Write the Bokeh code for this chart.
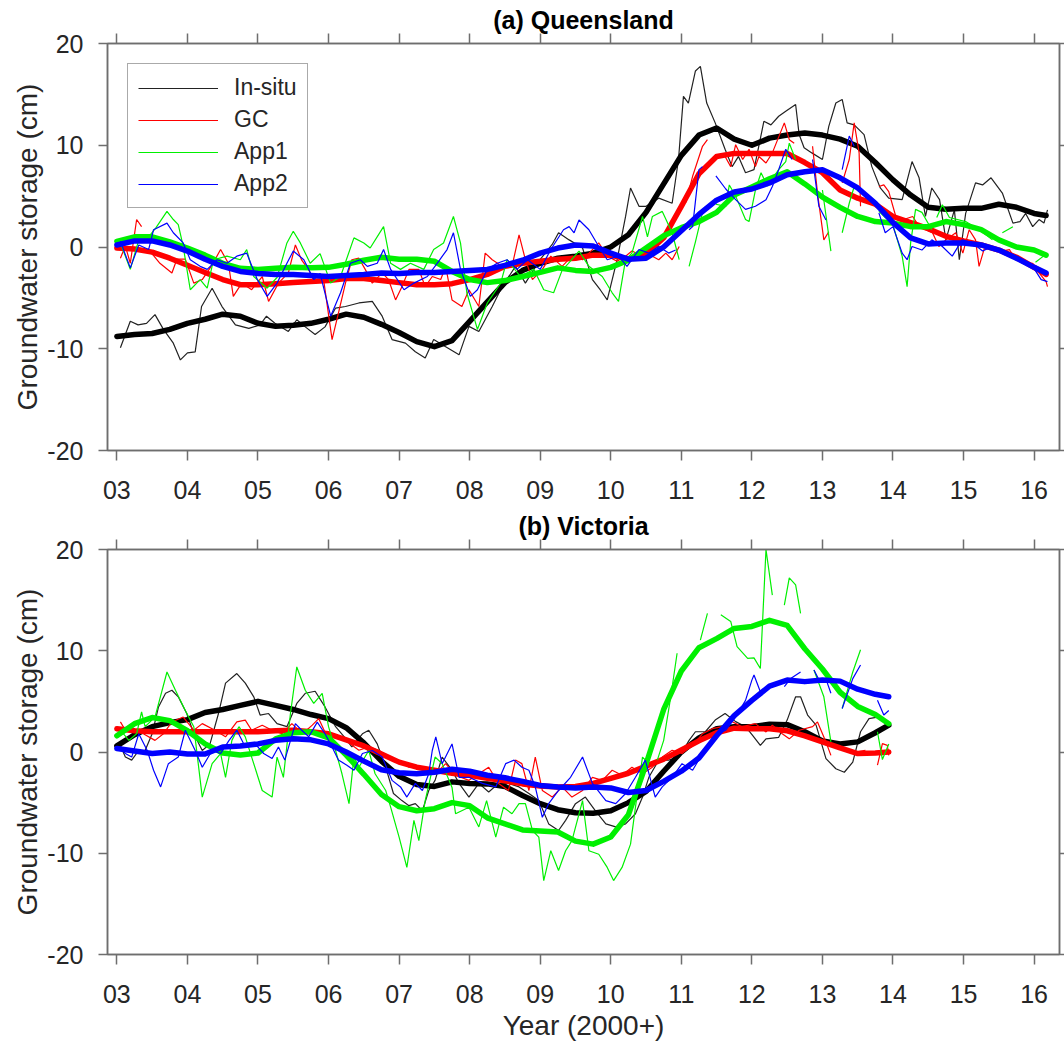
from bokeh.plotting import figure
from bokeh.models import LinearAxis, FixedTicker, Legend, LegendItem, Range1d, Title
from bokeh.layouts import column
from bokeh.embed import file_html
from bokeh.resources import INLINE

nan = float("nan")

YEAR_TICKS = [2003, 2004, 2005, 2006, 2007, 2008, 2009, 2010, 2011, 2012, 2013, 2014, 2015, 2016]
YEAR_LABELS = ["03", "04", "05", "06", "07", "08", "09", "10", "11", "12", "13", "14", "15", "16"]
Y_TICKS = [-20, -10, 0, 10, 20]
Y_LABELS = ["-20", "-10", "0", "10", "20"]
SERIES = ["In-situ", "GC", "App1", "App2"]
COLORS = ["#000000", "#ff0000", "#00f000", "#0000ff"]

# ---------------- (a) Queensland : monthly series (year, cm) ----------------
Q_INSITU = [(2003.05,-9.9),(2003.19,-7.3),(2003.30,-7.65),(2003.42,-7.5),(2003.54,-6.65),(2003.66,-8.1),(2003.80,-9.45),(2003.90,-11.1),(2004.00,-10.4),(2004.11,-10.3),(2004.20,-5.85),(2004.35,-4.05),(2004.49,-5.85),(2004.68,-7.65),(2004.87,-8.0),(2005.03,-7.65),(2005.12,-6.8),(2005.24,-7.5),(2005.43,-8.3),(2005.55,-7.15),(2005.67,-7.85),(2005.81,-8.6),(2005.95,-7.85),(2006.10,-6.0),(2006.24,-5.85),(2006.43,-5.5),(2006.62,-5.35),(2006.76,-6.8),(2006.90,-9.1),(2007.09,-9.45),(2007.23,-10.3),(2007.37,-10.9),(2007.49,-9.1),(2007.66,-9.8),(2007.85,-10.6),(2007.99,-7.8),(2008.13,-8.3),(2008.32,-5.85),(2008.46,-3.9),(2008.65,-1.9),(2008.79,-3.55),(2008.98,-1.4),(2009.17,0.25),(2009.26,1.4),(2009.41,0.7),(2009.60,-0.1),(2009.74,-3.2),(2009.85,-4.2),(2009.95,-5.2),(2010.09,-1.25),(2010.21,3.0),(2010.28,5.8),(2010.40,4.0),(2010.50,4.0),(2010.68,4.8),(2010.87,4.3),(2010.96,8.6),(2011.03,14.8),(2011.10,14.15),(2011.20,17.3),(2011.27,17.75),(2011.36,14.15),(2011.48,12.2),(2011.62,9.6),(2011.72,7.9),(2011.81,8.9),(2011.91,7.3),(2012.03,7.6),(2012.17,12.35),(2012.27,12.0),(2012.38,12.85),(2012.48,13.35),(2012.62,14.0),(2012.67,11.05),(2012.74,9.75),(2012.85,9.25),(2013.00,8.6),(2013.09,11.85),(2013.19,14.15),(2013.28,14.5),(2013.35,12.2),(2013.45,12.0),(2013.59,11.05),(2013.70,7.9),(2013.82,5.8),(2013.94,4.8),(2014.13,4.65),(2014.27,8.4),(2014.37,6.8),(2014.46,3.0),(2014.55,5.8),(2014.66,4.65),(2014.75,0.7),(2014.87,3.65),(2014.94,-1.25),(2015.03,3.3),(2015.17,6.3),(2015.27,6.1),(2015.39,6.8),(2015.55,5.3),(2015.70,2.35),(2015.80,2.5),(2015.88,3.3),(2015.98,2.0),(2016.07,2.7),(2016.14,2.35),(2016.19,3.65)]

Q_GC = [(2003.05,-1.1),(2003.12,0.1),(2003.19,-1.6),(2003.28,2.7),(2003.35,2.0),(2003.38,nan),(2003.45,-0.25),(2003.61,-1.6),(2003.78,-2.55),(2003.85,-1.2),(2003.97,-1.2),(2004.09,-3.55),(2004.21,-3.2),(2004.35,-1.75),(2004.47,-0.25),(2004.58,-1.6),(2004.65,-4.85),(2004.77,-3.55),(2004.91,-4.2),(2005.06,-2.9),(2005.15,-5.35),(2005.29,-3.55),(2005.43,-2.55),(2005.53,0.2),(2005.62,-1.3),(2005.72,-2.25),(2005.81,-3.55),(2005.93,-3.2),(2006.05,-9.1),(2006.14,-6.5),(2006.24,-3.55),(2006.33,-1.25),(2006.43,-1.1),(2006.52,-2.2),(2006.62,-3.55),(2006.76,-2.55),(2006.85,-3.2),(2006.95,-5.2),(2007.04,-3.9),(2007.14,-2.2),(2007.28,-2.2),(2007.37,-3.9),(2007.47,-2.9),(2007.59,-3.2),(2007.66,-1.9),(2007.75,-5.2),(2007.89,-5.85),(2007.99,-4.2),(2008.13,-5.85),(2008.22,-0.6),(2008.32,-1.25),(2008.46,-1.9),(2008.60,-1.9),(2008.70,1.2),(2008.79,-1.25),(2008.89,-3.2),(2009.03,-2.2),(2009.15,-0.9),(2009.31,-1.9),(2009.45,-0.9),(2009.60,-1.25),(2009.74,-0.25),(2009.83,0.4),(2009.95,-0.9),(2010.09,-1.4),(2010.21,-0.9),(2010.30,-0.4),(2010.45,-0.9),(2010.59,-0.9),(2010.68,-1.25),(2010.78,-0.6),(2010.87,-1.25),(2010.97,0.05),(2011.00,nan),(2011.06,4.35),(2011.16,6.95),(2011.30,9.9),(2011.37,10.55),(2011.50,nan),(2011.62,8.9),(2011.70,7.9),(2011.77,10.05),(2011.87,8.6),(2011.96,9.6),(2012.05,7.9),(2012.10,8.9),(2012.20,8.25),(2012.29,9.25),(2012.46,12.2),(2012.53,10.55),(2012.60,10.2),(2012.70,nan),(2012.86,9.9),(2012.93,5.3),(2013.02,0.7),(2013.09,1.5),(2013.20,nan),(2013.28,6.3),(2013.38,8.6),(2013.45,12.2),(2013.52,9.25),(2013.54,4.0),(2013.65,nan),(2013.80,5.95),(2013.87,6.1),(2013.94,5.45),(2014.04,3.0),(2014.13,2.65),(2014.28,3.0),(2014.37,2.0),(2014.56,1.4),(2014.65,0.05),(2014.75,0.7),(2014.89,1.4),(2014.99,-0.6),(2015.08,1.7),(2015.17,0.7),(2015.22,-1.9),(2015.29,-0.25),(2015.41,0.05),(2015.55,-0.4),(2015.65,-0.25),(2015.74,-1.25),(2015.84,-1.6),(2015.98,-1.6),(2016.07,-2.55),(2016.17,-3.4),(2016.19,-3.9)]

Q_APP1 = [(2003.05,0.4),(2003.19,-2.2),(2003.31,0.7),(2003.45,1.0),(2003.55,1.85),(2003.71,3.5),(2003.80,2.7),(2003.87,2.2),(2003.94,0.05),(2004.04,-4.2),(2004.18,-3.2),(2004.28,-4.05),(2004.37,-1.25),(2004.56,-0.9),(2004.75,-1.25),(2004.84,-0.25),(2004.94,-2.9),(2005.13,-4.05),(2005.27,-3.0),(2005.41,0.4),(2005.50,1.55),(2005.60,0.4),(2005.74,-1.6),(2005.88,-0.65),(2006.03,-3.55),(2006.17,-2.9),(2006.36,0.9),(2006.50,0.4),(2006.59,-0.1),(2006.78,2.0),(2006.88,-1.6),(2007.02,-2.2),(2007.16,-1.6),(2007.35,-2.2),(2007.49,-0.25),(2007.63,0.4),(2007.77,3.0),(2007.87,0.4),(2007.96,-4.5),(2008.11,-8.1),(2008.25,-5.5),(2008.44,-3.55),(2008.53,-1.25),(2008.72,-2.9),(2008.91,-2.2),(2009.05,-4.2),(2009.19,-4.5),(2009.31,-2.3),(2009.40,-1.6),(2009.55,-0.4),(2009.69,-1.9),(2009.88,-2.9),(2010.02,-4.5),(2010.11,-5.35),(2010.21,-1.25),(2010.30,-0.6),(2010.45,3.0),(2010.52,1.0),(2010.59,3.0),(2010.73,3.5),(2010.87,1.4),(2010.97,-1.25),(2011.04,nan),(2011.11,-1.9),(2011.20,0.5),(2011.30,3.4),(2011.40,nan),(2011.49,4.2),(2011.63,4.0),(2011.68,6.1),(2011.77,5.0),(2011.91,2.7),(2011.96,2.5),(2012.05,5.6),(2012.13,7.3),(2012.22,6.0),(2012.38,7.6),(2012.48,8.4),(2012.53,10.2),(2012.62,8.6),(2012.70,nan),(2013.00,5.6),(2013.12,-0.4),(2013.20,nan),(2013.28,1.4),(2013.38,4.3),(2013.45,5.95),(2013.60,nan),(2013.80,3.5),(2013.89,2.9),(2013.99,2.4),(2014.13,-0.9),(2014.20,-3.9),(2014.25,0.4),(2014.32,3.7),(2014.41,3.4),(2014.55,1.7),(2014.60,nan),(2014.62,2.9),(2014.70,4.15),(2014.80,2.9),(2015.03,2.5),(2015.22,1.7),(2015.41,0.7),(2015.48,nan),(2015.55,1.4),(2015.70,2.0),(2015.80,nan),(2016.02,-1.5),(2016.16,-0.75)]

Q_APP2 = [(2003.05,0.55),(2003.19,-2.05),(2003.31,0.2),(2003.45,-0.25),(2003.52,1.7),(2003.71,2.35),(2003.80,1.4),(2003.94,0.4),(2004.04,-1.25),(2004.18,-1.9),(2004.28,-2.2),(2004.42,-1.25),(2004.56,-1.6),(2004.70,-0.9),(2004.84,-0.6),(2004.99,-3.2),(2005.13,-4.85),(2005.27,-3.55),(2005.41,-1.6),(2005.50,-0.4),(2005.65,-1.25),(2005.79,-3.2),(2005.88,-2.6),(2006.03,-6.8),(2006.17,-4.5),(2006.31,-1.6),(2006.45,-1.25),(2006.55,-1.9),(2006.69,-1.6),(2006.78,-0.25),(2006.88,-2.2),(2007.07,-4.2),(2007.21,-3.55),(2007.40,-2.9),(2007.54,-1.6),(2007.68,-0.25),(2007.77,1.4),(2007.87,-2.2),(2008.01,-4.85),(2008.11,-4.2),(2008.25,-2.2),(2008.39,-1.6),(2008.53,-1.25),(2008.67,-2.2),(2008.82,-1.25),(2009.00,-2.2),(2009.15,-0.25),(2009.33,1.7),(2009.41,2.0),(2009.48,1.4),(2009.55,2.65),(2009.69,1.7),(2009.83,0.05),(2009.95,-1.25),(2010.11,-0.9),(2010.23,-1.9),(2010.40,-0.25),(2010.54,-0.6),(2010.68,0.05),(2010.82,-0.6),(2010.92,-0.3),(2011.00,nan),(2011.11,1.7),(2011.16,2.0),(2011.25,7.6),(2011.30,7.9),(2011.40,nan),(2011.49,7.0),(2011.63,5.7),(2011.77,4.65),(2011.91,3.7),(2012.05,4.0),(2012.20,4.65),(2012.29,5.95),(2012.38,7.6),(2012.48,9.6),(2012.57,8.6),(2012.70,nan),(2012.86,8.6),(2012.95,4.0),(2013.05,2.65),(2013.15,nan),(2013.28,7.6),(2013.38,10.9),(2013.45,9.9),(2013.60,nan),(2013.80,3.35),(2013.89,1.4),(2014.00,2.0),(2014.13,-0.6),(2014.20,-1.25),(2014.27,0.05),(2014.41,-0.3),(2014.55,0.7),(2014.70,0.05),(2014.84,-0.9),(2014.98,0.7),(2015.13,0.4),(2015.27,-0.4),(2015.41,0.05),(2015.55,-0.6),(2015.70,-0.9),(2015.84,-1.6),(2015.98,-1.9),(2016.10,-3.2),(2016.19,-3.4)]

# smoothed curves, read quarterly
Q_SMOOTH_T = [2003.00,2003.25,2003.50,2003.75,2004.00,2004.25,2004.50,2004.75,2005.00,2005.25,2005.50,2005.75,2006.00,2006.25,2006.50,2006.75,2007.00,2007.25,2007.50,2007.75,2008.00,2008.25,2008.50,2008.75,2009.00,2009.25,2009.50,2009.75,2010.00,2010.25,2010.50,2010.75,2011.00,2011.25,2011.50,2011.75,2012.00,2012.25,2012.50,2012.75,2013.00,2013.25,2013.50,2013.75,2014.00,2014.25,2014.50,2014.75,2015.00,2015.25,2015.50,2015.75,2016.00,2016.17]
Q_INSITU_S = [-8.8,-8.6,-8.5,-8.1,-7.5,-7.1,-6.6,-6.8,-7.5,-7.8,-7.7,-7.5,-7.1,-6.6,-6.9,-7.6,-8.4,-9.3,-9.8,-9.2,-7.3,-5.4,-3.5,-2.3,-1.6,-1.1,-0.9,-0.6,0.0,1.2,3.4,6.2,9.0,11.0,11.7,10.6,10.0,10.7,11.0,11.2,11.0,10.6,9.9,8.3,6.6,5.1,3.9,3.7,3.8,3.8,4.2,3.9,3.3,3.1]
Q_GC_S = [-0.1,-0.2,-0.5,-1.1,-1.8,-2.5,-3.2,-3.7,-3.7,-3.6,-3.5,-3.4,-3.3,-3.1,-3.1,-3.3,-3.5,-3.7,-3.7,-3.6,-3.2,-2.7,-1.9,-1.6,-1.4,-1.2,-1.1,-0.8,-0.8,-1.2,-0.7,0.9,4.0,7.2,8.9,9.2,9.2,9.2,9.2,8.3,7.3,5.6,4.8,4.2,3.0,2.4,1.8,1.05,0.6,0.2,-0.3,-1.0,-2.0,-2.7]
Q_APP1_S = [0.55,1.0,1.0,0.5,-0.1,-0.8,-1.6,-2.1,-2.2,-2.1,-2.0,-2.05,-2.0,-1.7,-1.3,-1.0,-1.2,-1.2,-1.4,-2.4,-3.2,-3.5,-3.3,-2.9,-2.5,-2.05,-2.3,-2.4,-2.0,-1.3,-0.1,1.1,1.9,2.5,3.4,5.1,5.9,6.7,7.4,6.2,4.9,3.9,3.0,2.5,2.35,2.0,2.0,2.5,2.2,1.7,0.7,0.0,-0.3,-0.8]
Q_APP2_S = [0.2,0.6,0.6,0.2,-0.4,-1.2,-1.9,-2.4,-2.6,-2.7,-2.7,-2.8,-2.9,-2.8,-2.7,-2.55,-2.6,-2.5,-2.5,-2.4,-2.3,-2.2,-1.8,-1.3,-0.6,-0.1,0.2,0.1,-0.6,-1.2,-1.1,0.0,1.6,3.2,4.6,5.4,5.7,6.3,7.1,7.4,7.6,6.8,5.8,4.3,2.4,0.9,0.3,0.4,0.4,0.2,-0.3,-1.1,-2.0,-2.55]

# ---------------- (b) Victoria : monthly series (year, cm) ----------------
V_INSITU = [(2003.05,0.65),(2003.12,-0.5),(2003.21,-0.8),(2003.31,0.15),(2003.40,0.15),(2003.50,1.8),(2003.59,4.45),(2003.69,5.8),(2003.78,6.1),(2003.87,5.45),(2003.99,3.8),(2004.09,1.8),(2004.21,0.15),(2004.32,0.8),(2004.44,3.8),(2004.54,6.8),(2004.70,7.75),(2004.82,6.8),(2004.94,5.45),(2005.03,3.65),(2005.15,3.8),(2005.27,2.8),(2005.41,2.5),(2005.55,4.8),(2005.67,5.8),(2005.81,6.0),(2005.95,4.45),(2006.10,2.5),(2006.24,1.35),(2006.33,0.5),(2006.48,1.8),(2006.57,2.15),(2006.69,0.8),(2006.81,-1.5),(2006.92,-4.1),(2007.04,-4.8),(2007.14,-5.3),(2007.23,-5.1),(2007.33,-5.8),(2007.42,-3.8),(2007.51,-2.8),(2007.61,-0.5),(2007.75,-1.8),(2007.85,-3.1),(2007.99,-4.45),(2008.13,-3.1),(2008.27,-3.95),(2008.41,-3.1),(2008.55,-3.1),(2008.70,-3.45),(2008.84,-4.1),(2008.98,-4.8),(2009.12,-7.1),(2009.26,-7.75),(2009.36,-6.75),(2009.50,-5.1),(2009.64,-4.45),(2009.78,-5.8),(2009.93,-7.1),(2010.07,-7.4),(2010.21,-7.1),(2010.35,-6.1),(2010.45,-4.45),(2010.54,-2.5),(2010.68,-0.8),(2010.82,-0.8),(2010.97,-0.5),(2011.11,1.15),(2011.20,2.0),(2011.34,2.0),(2011.48,3.15),(2011.62,3.8),(2011.77,3.0),(2011.91,2.5),(2012.01,1.65),(2012.12,0.65),(2012.20,1.3),(2012.38,1.45),(2012.50,3.15),(2012.62,5.45),(2012.69,5.45),(2012.79,3.65),(2012.91,2.65),(2013.05,-0.65),(2013.19,-1.65),(2013.31,-2.0),(2013.43,-1.0),(2013.54,2.0),(2013.66,3.3),(2013.78,3.45),(2013.94,2.65)]

V_GC = [(2003.05,2.97),(2003.12,2.15),(2003.21,2.3),(2003.35,1.9),(2003.54,1.15),(2003.66,1.8),(2003.78,2.97),(2003.94,3.45),(2004.09,2.15),(2004.21,2.8),(2004.39,2.15),(2004.54,1.5),(2004.70,2.97),(2004.82,3.15),(2004.91,2.15),(2005.06,2.65),(2005.20,2.15),(2005.34,1.8),(2005.48,2.8),(2005.63,1.8),(2005.77,2.65),(2005.86,3.3),(2005.96,1.8),(2006.10,1.5),(2006.24,1.15),(2006.43,0.17),(2006.57,0.5),(2006.71,0.17),(2006.85,-0.5),(2006.99,-0.8),(2007.14,-1.5),(2007.28,-1.5),(2007.42,-1.8),(2007.52,-2.15),(2007.66,-1.15),(2007.80,-2.3),(2007.99,-2.8),(2008.13,-2.15),(2008.27,-1.5),(2008.41,-3.1),(2008.55,-3.8),(2008.65,-0.8),(2008.74,-1.15),(2008.84,-3.8),(2008.93,-0.5),(2009.03,-3.8),(2009.17,-4.45),(2009.31,-3.45),(2009.45,-4.45),(2009.60,-3.8),(2009.74,-2.5),(2009.88,-2.8),(2010.02,-1.8),(2010.16,-2.3),(2010.30,-1.5),(2010.45,-2.15),(2010.59,-1.5),(2010.73,-0.5),(2010.87,0.17),(2011.01,-0.15),(2011.16,0.66),(2011.30,1.8),(2011.44,2.3),(2011.58,2.5),(2011.72,3.0),(2011.86,2.5),(2012.05,2.8),(2012.20,1.98),(2012.29,2.65),(2012.43,1.8),(2012.53,1.3),(2012.67,2.15),(2012.86,2.5),(2012.93,2.97),(2013.05,0.99),(2013.12,-0.33),(2013.20,nan),(2013.28,0.33),(2013.47,0.0),(2013.61,0.17),(2013.70,nan),(2013.78,-1.3),(2013.85,0.83),(2013.92,0.66),(2013.94,-0.33)]

V_APP1 = [(2003.05,2.15),(2003.17,1.15),(2003.28,1.8),(2003.35,3.95),(2003.40,2.5),(2003.54,3.45),(2003.71,7.9),(2003.83,6.1),(2003.97,4.1),(2004.09,2.5),(2004.21,-4.45),(2004.35,-1.15),(2004.47,-0.17),(2004.54,-2.5),(2004.63,1.15),(2004.73,2.5),(2004.82,1.5),(2004.91,-0.5),(2005.06,-3.8),(2005.20,-4.45),(2005.27,-0.5),(2005.36,-2.5),(2005.46,3.8),(2005.55,8.4),(2005.67,6.1),(2005.79,4.8),(2005.91,5.8),(2006.00,2.5),(2006.10,0.15),(2006.19,-2.15),(2006.29,-5.1),(2006.36,-0.5),(2006.43,-1.5),(2006.57,0.15),(2006.66,-2.15),(2006.81,-3.8),(2006.88,-5.45),(2007.00,-8.4),(2007.11,-11.4),(2007.21,-6.75),(2007.28,-8.75),(2007.37,-4.8),(2007.51,-0.5),(2007.61,-1.15),(2007.75,-3.5),(2007.80,-6.1),(2007.99,-5.45),(2008.13,-7.4),(2008.24,-4.8),(2008.37,-8.4),(2008.48,-5.45),(2008.60,-6.1),(2008.70,-5.1),(2008.79,-5.1),(2008.89,-7.75),(2008.98,-8.4),(2009.05,-12.7),(2009.15,-9.75),(2009.26,-11.7),(2009.36,-9.75),(2009.45,-8.75),(2009.60,-4.8),(2009.69,-9.75),(2009.83,-10.1),(2009.95,-11.4),(2010.04,-12.7),(2010.16,-11.4),(2010.28,-9.1),(2010.35,-5.45),(2010.45,-0.5),(2010.54,-1.15),(2010.60,nan),(2010.66,-0.8),(2010.75,1.15),(2010.85,5.45),(2010.94,9.75),(2011.10,nan),(2011.27,11.05),(2011.37,13.7),(2011.45,nan),(2011.56,13.55),(2011.70,12.9),(2011.79,10.4),(2011.94,9.25),(2012.03,9.3),(2012.12,8.25),(2012.20,20.0),(2012.29,15.5),(2012.38,nan),(2012.46,14.5),(2012.53,17.2),(2012.62,16.5),(2012.69,13.7),(2012.78,nan),(2012.88,8.1),(2013.02,5.45),(2013.12,1.0),(2013.20,nan),(2013.28,4.3),(2013.43,7.9),(2013.54,10.1),(2013.65,nan),(2013.78,2.0),(2013.85,-0.75),(2013.94,0.8)]

V_APP2 = [(2003.05,0.5),(2003.12,-0.15),(2003.21,-0.5),(2003.31,1.8),(2003.43,0.15),(2003.52,-1.8),(2003.62,-3.45),(2003.73,-1.15),(2003.87,-0.5),(2003.97,2.15),(2004.11,0.15),(2004.21,-1.5),(2004.35,0.15),(2004.47,-0.15),(2004.59,1.15),(2004.70,2.15),(2004.82,0.5),(2004.96,0.8),(2005.08,-0.15),(2005.20,-0.65),(2005.29,0.5),(2005.38,-0.8),(2005.53,2.8),(2005.62,2.15),(2005.72,1.5),(2005.84,2.95),(2005.95,1.8),(2006.05,0.5),(2006.14,-0.8),(2006.26,-1.3),(2006.36,-1.8),(2006.48,-0.15),(2006.62,0.15),(2006.76,-0.5),(2006.90,-2.8),(2007.02,-3.45),(2007.11,-4.45),(2007.23,-3.1),(2007.33,-3.8),(2007.42,-2.15),(2007.47,0.15),(2007.52,1.5),(2007.61,-1.15),(2007.75,0.8),(2007.85,-2.5),(2007.99,-2.5),(2008.18,-3.1),(2008.37,-3.45),(2008.51,-1.15),(2008.63,-0.8),(2008.74,-1.5),(2008.84,-1.8),(2008.93,-3.45),(2009.03,-6.45),(2009.12,-5.1),(2009.26,-3.8),(2009.43,-2.5),(2009.60,-0.5),(2009.74,-3.1),(2009.93,-4.8),(2010.07,-5.1),(2010.21,-4.1),(2010.35,-2.5),(2010.49,-0.8),(2010.63,-4.45),(2010.73,-3.45),(2010.87,-2.5),(2011.01,-1.15),(2011.16,-1.8),(2011.30,-0.15),(2011.49,1.8),(2011.63,2.15),(2011.77,3.45),(2011.91,5.1),(2012.00,7.1),(2012.03,7.6),(2012.12,5.95),(2012.20,nan),(2012.46,6.45),(2012.55,7.25),(2012.69,7.9),(2012.78,nan),(2012.88,8.1),(2012.96,7.0),(2013.05,7.2),(2013.12,5.8),(2013.20,nan),(2013.28,4.3),(2013.43,7.25),(2013.54,8.6),(2013.65,nan),(2013.78,5.1),(2013.87,3.65),(2013.94,4.1)]

V_SMOOTH_T = [2003.00,2003.25,2003.50,2003.75,2004.00,2004.25,2004.50,2004.75,2005.00,2005.25,2005.50,2005.75,2006.00,2006.25,2006.50,2006.75,2007.00,2007.25,2007.50,2007.75,2008.00,2008.25,2008.50,2008.75,2009.00,2009.25,2009.50,2009.75,2010.00,2010.25,2010.50,2010.75,2011.00,2011.25,2011.50,2011.75,2012.00,2012.25,2012.50,2012.75,2013.00,2013.25,2013.50,2013.75,2013.94]
V_INSITU_S = [0.6,1.7,2.5,2.9,3.2,3.9,4.2,4.6,5.0,4.6,4.2,3.7,3.3,2.4,0.9,-0.9,-2.4,-3.2,-3.4,-2.95,-3.1,-3.15,-3.4,-4.3,-5.1,-5.7,-6.0,-6.05,-5.8,-5.0,-3.9,-1.9,0.0,1.4,2.3,2.5,2.5,2.75,2.7,2.0,1.1,0.8,1.0,1.9,2.65]
V_GC_S = [2.3,2.1,2.0,2.0,2.0,2.0,2.0,2.0,2.0,2.1,2.15,2.0,1.8,1.2,0.6,-0.2,-1.0,-1.5,-1.8,-2.1,-2.3,-2.6,-2.85,-3.15,-3.35,-3.45,-3.4,-3.1,-2.6,-2.1,-1.4,-0.7,0.2,1.1,1.9,2.35,2.3,2.3,2.1,1.6,1.0,0.4,-0.15,-0.1,0.0]
V_APP1_S = [1.6,2.8,3.4,3.1,2.1,0.8,-0.1,-0.3,-0.1,1.3,1.9,2.0,1.4,-0.3,-2.2,-4.2,-5.4,-5.8,-5.6,-5.0,-5.3,-6.5,-7.1,-7.7,-7.8,-7.9,-8.8,-9.1,-8.4,-6.2,-1.2,4.2,8.0,10.3,11.2,12.2,12.4,13.0,12.5,10.2,8.2,5.9,4.5,3.7,2.8]
V_APP2_S = [0.35,0.1,-0.15,0.0,-0.2,-0.2,0.5,0.6,0.8,1.15,1.3,1.2,0.8,0.0,-0.9,-1.75,-2.05,-2.15,-2.0,-1.7,-1.9,-2.3,-2.55,-2.9,-3.3,-3.45,-3.55,-3.45,-3.55,-4.0,-3.8,-2.9,-1.9,-0.6,1.6,3.6,5.1,6.5,7.1,6.95,7.1,7.0,6.2,5.7,5.45]

FONT = "Liberation Sans"
AX = "#6e6e6e"
TXT = "#262626"
X0, X1 = 2002.867, 2016.36


def style_axis(ax, ticks, labels, tick_len, show_labels):
    ax.ticker = FixedTicker(ticks=ticks)
    ax.axis_line_color = AX
    ax.axis_line_width = 1.5
    ax.major_tick_line_color = AX
    ax.major_tick_line_width = 1.5
    ax.major_tick_in = 0
    ax.major_tick_out = tick_len
    ax.minor_tick_line_color = None
    if show_labels:
        ax.major_label_overrides = dict(zip(ticks, labels))
        ax.major_label_text_font = FONT
        ax.major_label_text_font_size = "25px"
        ax.major_label_text_color = TXT
    else:
        ax.major_label_text_font_size = "1px"
        ax.major_label_text_color = None
        ax.major_label_standoff = 0


def panel(height, mb_top, mb_bottom, title, series, smooth_t, smooth, xlabel, legend):
    p = figure(width=1064, height=height, x_range=Range1d(X0, X1), y_range=Range1d(-20, 20),
               output_backend="svg", toolbar_location=None,
               min_border_left=107, min_border_right=5, min_border_top=mb_top, min_border_bottom=mb_bottom)
    p.xgrid.visible = False
    p.ygrid.visible = False
    p.outline_line_color = AX
    p.outline_line_width = 1.5
    p.background_fill_color = "white"
    p.border_fill_color = "white"

    p.title = Title(text=title, align="center", text_font=FONT, text_font_size="25px",
                    text_font_style="bold", text_color="#000000", standoff=0)

    xa = p.xaxis[0]
    style_axis(xa, YEAR_TICKS, YEAR_LABELS, 10, True)
    xa.major_label_standoff = 20
    if xlabel:
        xa.axis_label = xlabel
        xa.axis_label_text_font = FONT
        xa.axis_label_text_font_size = "28px"
        xa.axis_label_text_font_style = "normal"
        xa.axis_label_text_color = TXT
        xa.axis_label_standoff = 4
    ya = p.yaxis[0]
    style_axis(ya, Y_TICKS, Y_LABELS, 9, True)
    ya.major_label_standoff = 15
    ya.axis_label = "Groundwater storage (cm)"
    ya.axis_label_text_font = FONT
    ya.axis_label_text_font_size = "28px"
    ya.axis_label_text_font_style = "normal"
    ya.axis_label_text_color = TXT
    ya.axis_label_standoff = 1

    top = LinearAxis()
    style_axis(top, YEAR_TICKS, None, 10, False)
    p.add_layout(top, "above")
    right = LinearAxis()
    style_axis(right, Y_TICKS, None, 5, False)
    p.add_layout(right, "right")

    thin_renderers = []
    for (data, s, color) in zip(series, smooth, COLORS):
        xs = [d[0] for d in data]
        ys = [d[1] for d in data]
        thin_color = "#222222" if color == "#000000" else color
        r = p.line(xs, ys, line_color=thin_color, line_width=1.2)
        thin_renderers.append(r)
        p.line(smooth_t, s, line_color=color, line_width=5.5, line_join="round", line_cap="round")

    if legend:
        lg = Legend(items=[LegendItem(label=n, renderers=[r]) for n, r in zip(SERIES, thin_renderers)],
                    location="top_left")
        lg.margin = 20
        lg.padding = 10
        lg.spacing = 5
        lg.glyph_width = 80
        lg.glyph_height = 20
        lg.label_height = 20
        lg.label_standoff = 16
        lg.label_text_font = FONT
        lg.label_text_font_size = "23px"
        lg.label_text_color = TXT
        lg.border_line_color = "#555555"
        lg.border_line_width = 1.2
        lg.background_fill_color = "white"
        lg.background_fill_alpha = 1.0
        p.add_layout(lg)
    return p


p1 = panel(509, 43, 59, "(a) Queensland",
           [Q_INSITU, Q_GC, Q_APP1, Q_APP2], Q_SMOOTH_T,
           [Q_INSITU_S, Q_GC_S, Q_APP1_S, Q_APP2_S], None, True)
p2 = panel(539, 39, 94, "(b) Victoria",
           [V_INSITU, V_GC, V_APP1, V_APP2], V_SMOOTH_T,
           [V_INSITU_S, V_GC_S, V_APP1_S, V_APP2_S], "Year (2000+)", False)

layout = column(p1, p2, spacing=0)
open("out.html", "w").write(file_html(layout, INLINE))
